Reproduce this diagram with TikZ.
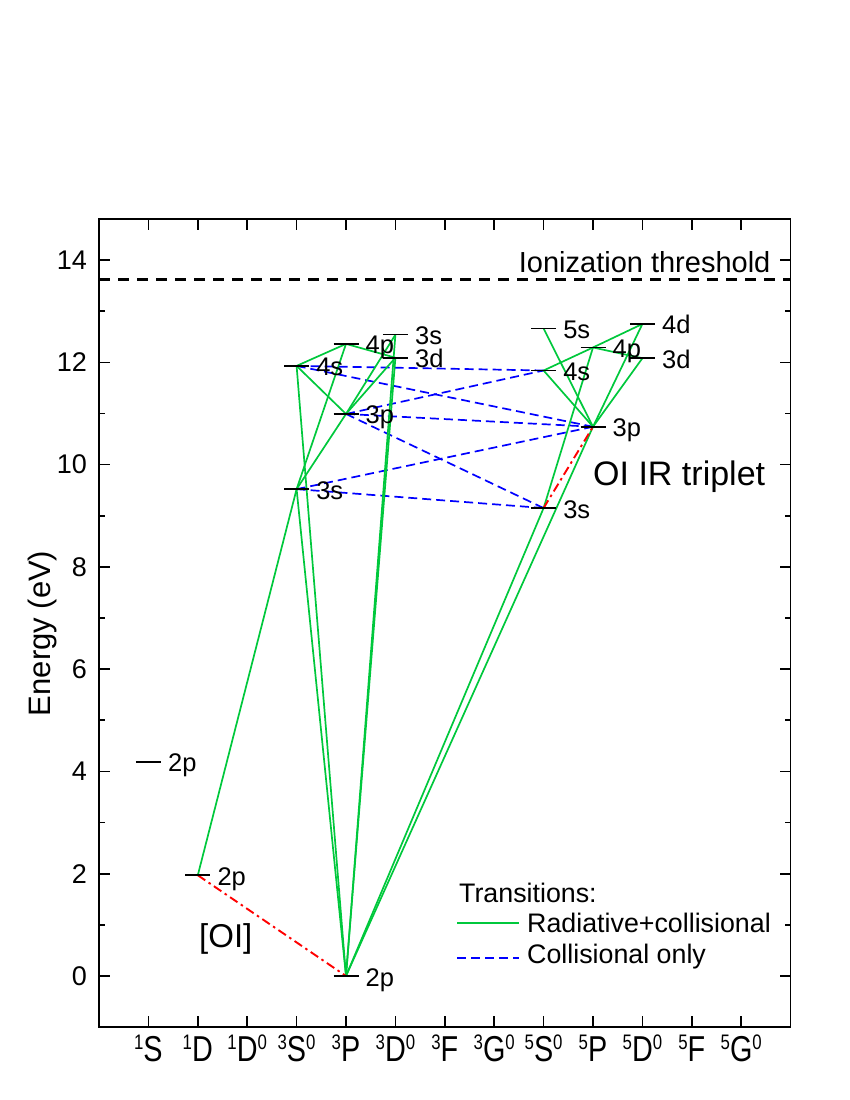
\documentclass[tikz,border=0pt]{standalone}
\usepackage{fontspec}
\setmainfont{Liberation Sans}
\definecolor{lgreen}{RGB}{0,200,60}
\newcommand{\tsup}[1]{\raisebox{12pt}{\fontsize{21}{21}\selectfont #1}}
\newcommand{\xl}[1]{\scalebox{0.8}[1]{#1}}
\begin{document}
\begin{tikzpicture}[x=49.4pt,y=51.14pt,
 frame/.style={line width=1.6pt,black},
 lvlline/.style={line width=1.6pt,black},
 rad/.style={draw=lgreen,line width=1.7pt},
 coll/.style={draw=blue,line width=1.7pt,dash pattern=on 9pt off 5pt},
 forb/.style={draw=red,line width=1.9pt,dash pattern=on 9pt off 4pt on 2.5pt off 4pt},
 ion/.style={line width=2.5pt,dash pattern=on 11pt off 8pt},
 lvllab/.style={anchor=base west,inner sep=0pt,font=\fontsize{25.5}{30}\selectfont},
 ticklab/.style={anchor=east,inner sep=0pt,font=\fontsize{27}{30}\selectfont},
 xlab/.style={anchor=base,inner sep=0pt,font=\fontsize{36}{40}\selectfont},
 txt/.style={anchor=base west,inner sep=0pt}]
\useasboundingbox (-99pt,-124pt) rectangle (751pt,976pt);

% level positions
\coordinate (S1p2) at (1,4.19);
\coordinate (D1p2) at (2,1.97);
\coordinate (P3p2) at (5,0);
\coordinate (S3s3) at (4,9.52);
\coordinate (S3s4) at (4,11.93);
\coordinate (P3p3) at (5,10.99);
\coordinate (P3p4) at (5,12.36);
\coordinate (D3s3) at (6,12.54);
\coordinate (D3d3) at (6,12.09);
\coordinate (S5s3) at (9,9.15);
\coordinate (S5s4) at (9,11.84);
\coordinate (S5s5) at (9,12.66);
\coordinate (P5p3) at (10,10.74);
\coordinate (P5p4) at (10,12.29);
\coordinate (D5d3) at (11,12.08);
\coordinate (D5d4) at (11,12.75);

% frame and ticks
\draw[frame] (0,-1) rectangle (14,14.8);
\foreach \y in {0,2,...,14}{
  \draw[frame] (0,\y) -- ++(11pt,0);
  \draw[frame] (14,\y) -- ++(-11pt,0);
  \node[ticklab] (yl\y) at ([xshift=-12pt]0,\y) {\y};
}
\foreach \y in {1,3,...,13}{
  \draw[frame] (0,\y) -- ++(6pt,0);
  \draw[frame] (14,\y) -- ++(-6pt,0);
}
\foreach \x in {1,...,13}{
  \draw[frame] (\x,-1) -- ++(0,11pt);
  \draw[frame] (\x,14.8) -- ++(0,-11pt);
}
\foreach \x/\t in {1/{\tsup{1}S},2/{\tsup{1}D},3/{\tsup{1}D\tsup{0}},4/{\tsup{3}S\tsup{0}},5/{\tsup{3}P},6/{\tsup{3}D\tsup{0}},7/{\tsup{3}F},8/{\tsup{3}G\tsup{0}},9/{\tsup{5}S\tsup{0}},10/{\tsup{5}P},11/{\tsup{5}D\tsup{0}},12/{\tsup{5}F},13/{\tsup{5}G\tsup{0}}}{
  \node[xlab] (xl\x) at ([yshift=-34pt]\x,-1) {\xl{\t}};
}
\node[rotate=90,inner sep=0pt,font=\fontsize{31}{33}\selectfont] (ylab) at (-1.154,6.7) {Energy (eV)};

% ionization threshold
\coordinate (ionL) at (0,13.62);
\coordinate (ionR) at (14,13.62);
\draw[ion] (ionL) -- (ionR);
\node[anchor=base east,inner sep=0pt,font=\fontsize{29}{30}\selectfont] (iontxt) at ([xshift=-20pt,yshift=7pt]ionR) {Ionization threshold};

% collisional only
\draw[coll] (S3s4) -- (S5s4);
\draw[coll] (S3s4) -- (P5p3);
\draw[coll] (P3p3) -- (S5s4);
\draw[coll] (P3p3) -- (P5p3);
\draw[coll] (P3p3) -- (S5s3);
\draw[coll] (S3s3) -- (P5p3);
\draw[coll] (S3s3) -- (S5s3);

% radiative + collisional
\draw[rad] (D1p2) -- (S3s3);
\draw[rad] (P3p2) -- (S3s3);
\draw[rad] (P3p2) -- (S3s4);
\draw[rad] (P3p2) -- (D3d3);
\draw[rad] (P3p2) -- (D3s3);
\draw[rad] (S3s3) -- (P3p3);
\draw[rad] (S3s3) -- (P3p4);
\draw[rad] (S3s4) -- (P3p3);
\draw[rad] (S3s4) -- (P3p4);
\draw[rad] (P3p3) -- (D3d3);
\draw[rad] (P3p3) -- (D3s3);
\draw[rad] (P3p4) -- (D3d3);
\draw[rad] (P3p2) -- (S5s3);
\draw[rad] (P3p2) -- (P5p3);
\draw[rad] (S5s3) -- (P5p4);
\draw[rad] (S5s4) -- (P5p3);
\draw[rad] (S5s4) -- (P5p4);
\draw[rad] (S5s5) -- (P5p3);
\draw[rad] (P5p3) -- (D5d3);
\draw[rad] (P5p3) -- (D5d4);
\draw[rad] (P5p4) -- (D5d3);
\draw[rad] (P5p4) -- (D5d4);

% forbidden / IR triplet
\draw[forb] (D1p2) -- (P3p2);
\draw[forb] (S5s3) -- (P5p3);

% level lines and labels
\foreach \n/\l in {S1p2/2p,D1p2/2p,P3p2/2p,S3s3/3s,S3s4/4s,P3p3/3p,P3p4/4p,D3s3/3s,D3d3/3d,S5s3/3s,S5s4/4s,S5s5/5s,P5p3/3p,P5p4/4p,D5d3/3d,D5d4/4d}{
  \draw[lvlline] ([xshift=-12.5pt]\n) -- ([xshift=12.5pt]\n);
  \node[lvllab] (\n-lab) at ([xshift=19.5pt,yshift=-10pt]\n) {\l};
}

% annotations
\node[txt,font=\fontsize{34}{36}\selectfont] (irtrip) at (10.0,9.6) {OI IR triplet};
\node[txt,font=\fontsize{33}{36}\selectfont] (oi) at (2.024,0.567) {[OI]};

% legend
\node[txt,font=\fontsize{26.8}{30}\selectfont] (legT) at (7.287,1.447) {Transitions:};
\coordinate (lg1a) at (7.247,1.036);
\coordinate (lg1b) at (8.502,1.036);
\draw[rad] (lg1a) -- (lg1b);
\node[txt,font=\fontsize{26.8}{30}\selectfont] (legR) at (8.664,0.841) {Radiative+collisional};
\coordinate (lg2a) at (7.247,0.352);
\coordinate (lg2b) at (8.502,0.352);
\draw[coll] (lg2a) -- (lg2b);
\node[txt,font=\fontsize{26.8}{30}\selectfont] (legC) at (8.664,0.254) {Collisional only};
\end{tikzpicture}
\end{document}
